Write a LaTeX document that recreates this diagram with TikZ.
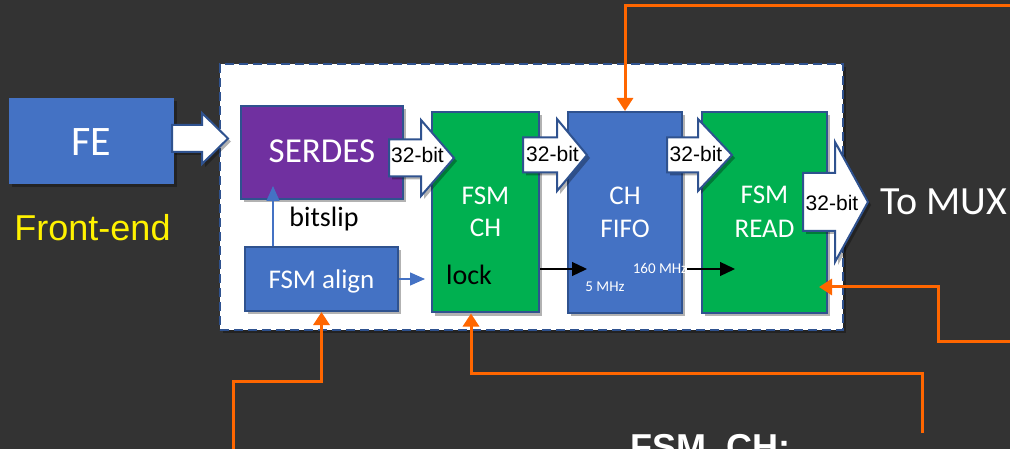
\documentclass[tikz,border=0pt]{standalone}
\usepackage{fontspec}
\setmainfont{Carlito}
\newfontfamily\arialf{Liberation Sans}
\usetikzlibrary{arrows.meta,calc,shadows}
\definecolor{bgc}{HTML}{333333}
\definecolor{boxblue}{HTML}{4472C4}
\definecolor{boxpurple}{HTML}{7030A0}
\definecolor{boxgreen}{HTML}{00B050}
\definecolor{edgeblue}{HTML}{2F528F}
\definecolor{orng}{HTML}{FF6600}
\newcommand\fsz[1]{\fontsize{#1}{#1}\selectfont}
% x0, x-head, x-tip, y-center, body half height, head half height
\newcommand\blockarr[6]{%
  \draw[barrowsty] ({#1},{#4-#5}) -- ({#2},{#4-#5}) -- ({#2},{#4-#6}) -- ({#3},{#4})
    -- ({#2},{#4+#6}) -- ({#2},{#4+#5}) -- ({#1},{#4+#5}) -- cycle;}
\begin{document}
\begin{tikzpicture}[x=1pt,y=-1pt,
  shad/.style={drop shadow={shadow xshift=3pt,shadow yshift=-3pt,opacity=0.3,fill=black}},
  box/.style={draw=edgeblue,line width=2pt,inner sep=0pt,shad},
  barrowsty/.style={draw=edgeblue,line width=2pt,fill=white,line join=miter,shad},
  txt/.style={inner sep=0pt,anchor=base,text=white},
  lbl/.style={inner sep=0pt,anchor=base,text=black,font=\arialf\fsz{21}},
  orarr/.style={draw=orng,line width=3pt,-{Triangle[width=16pt,length=13pt]}},
  blkarr/.style={draw=black,line width=1.3pt,-{Triangle[width=14pt,length=15pt]}},
  bluarr/.style={draw=boxblue,line width=1.3pt,-{Triangle[width=13pt,length=15pt]}}]
\useasboundingbox (0,0) rectangle (1010,449);
\fill[bgc] (0,0) rectangle (1010,449);
\clip (0,0) rectangle (1010,449);

% front-end
\node[fill=boxblue,inner sep=0pt,minimum width=165pt,minimum height=86pt,shad] (fe) at (91.5,141) {};
\node[txt,font=\fsz{42}] (fetxt) at (91,156) {FE};
\node[txt,text=yellow,font=\arialf\fsz{36}] (fend) at (92.5,241) {Front-end};

% container
\node[fill=white,draw=edgeblue,line width=2.5pt,dash pattern=on 9pt off 5pt,inner sep=0pt,
      minimum width=623pt,minimum height=266pt,shad] (cont) at (531.5,197) {};

% blocks
\node[box,fill=boxpurple,minimum width=162pt,minimum height=93pt] (serdes) at (322,152.5) {};
\node[box,fill=boxgreen,minimum width=107pt,minimum height=200pt] (fsmch) at (485.5,212.5) {};
\node[box,fill=boxblue,minimum width=114pt,minimum height=201pt] (fifo) at (625,212.5) {};
\node[box,fill=boxgreen,minimum width=125pt,minimum height=201pt] (fsmread) at (764.5,212.5) {};
\node[box,fill=boxblue,minimum width=153pt,minimum height=64pt] (align) at (321.5,279) {};

% block arrows
\blockarr{172}{202}{228}{138.5}{13.5}{25.5}
\blockarr{389}{421}{454}{158}{18.5}{38}
\blockarr{523}{557}{587}{155}{17.5}{36}
\blockarr{667}{698}{732}{155}{17.5}{36}
\blockarr{803}{835}{868}{202}{29}{60}

% texts
\node[txt,font=\fsz{35}] (serdestxt) at (322,163) {SERDES};
\node[txt,font=\fsz{27}] (fsmch1) at (485.5,205) {FSM};
\node[txt,font=\fsz{27}] (fsmch2) at (485.5,237) {CH};
\node[txt,font=\fsz{27}] (fifo1) at (625,205) {CH};
\node[txt,font=\fsz{27}] (fifo2) at (625,238) {FIFO};
\node[txt,font=\fsz{27}] (rd1) at (764.5,204) {FSM};
\node[txt,font=\fsz{27}] (rd2) at (764.5,238) {READ};
\node[txt,font=\fsz{27}] (aligntxt) at (321.5,288) {FSM align};
\node[txt,text=black,font=\fsz{28}] (bitslip) at (324,227) {bitslip};
\node[txt,text=black,font=\fsz{28}] (lock) at (469,285) {lock};
\node[txt,font=\fsz{15}] (t5) at (605,292) {5 MHz};
\node[txt,font=\fsz{15}] (t160) at (660,273) {160 MHz};
\node[lbl] (b1) at (417.5,163) {32-bit};
\node[lbl] (b2) at (552.5,162) {32-bit};
\node[lbl] (b3) at (696,162) {32-bit};
\node[lbl] (b4) at (832,211) {32-bit};
\node[txt,anchor=base west,font=\fsz{40}] (mux) at (880,215) {To MUX};
\node[txt,anchor=base west,font=\arialf\bfseries\fsz{36}] (fsmchnote) at (630,459) {FSM\_CH:};

% thin arrows
\coordinate (bsx) at (273,0);
\draw[bluarr] (align.north -| bsx) -- ($(serdes.south -| bsx)+(0,-14)$);
\draw[bluarr] (align.east) -- ($(align.east -| fsmch.west)+(-6,0)$);
\coordinate (ly) at (0,269);
\draw[blkarr] (fsmch.east |- ly) -- ($(fifo.west |- ly)+(20,0)$);
\draw[blkarr] (t160.east |- ly) -- ($(fsmread.west |- ly)+(34,0)$);

% orange arrows
\coordinate (o1) at (1012,6);
\draw[orarr] (o1) -| (fifo.north);
\coordinate (o2) at (233,452);
\draw[orarr] (o2) |- ($(align.south)+(0,69)$) -- (align.south);
\coordinate (o3) at (922,433);
\coordinate (o3c) at (471,373);
\draw[orarr] (o3) |- (o3c) -- (o3c |- fsmch.south);
\coordinate (o4) at (1012,341);
\coordinate (o4c) at (938,287);
\draw[orarr] (o4) -| (o4c) -- ($(fsmread.east |- o4c)+(-9,0)$);
\end{tikzpicture}
\end{document}
